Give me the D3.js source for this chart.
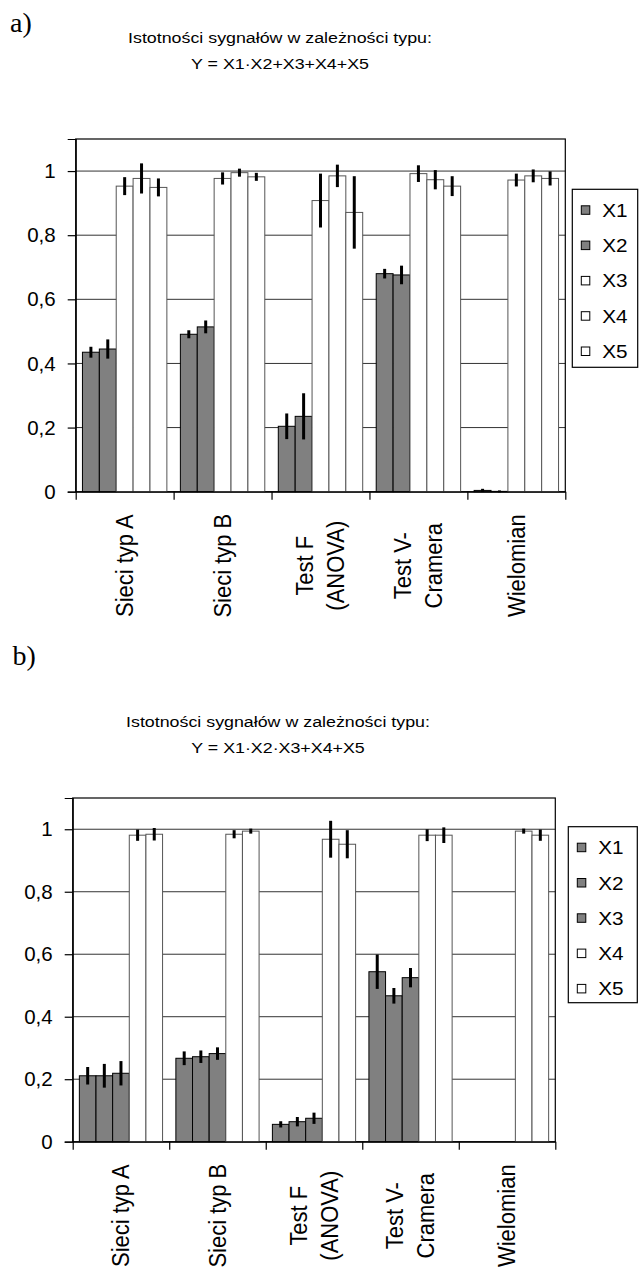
<!DOCTYPE html>
<html>
<head>
<meta charset="utf-8">
<script src="https://cdn.jsdelivr.net/npm/d3@7"></script>
<style>
  html, body { margin: 0; padding: 0; background: #fff; }
  svg { display: block; }
  text { font-family: "Liberation Sans", Arial, sans-serif; fill: #000; }
</style>
</head>
<body>
<svg id="fig" width="644" height="1270"></svg>
<script>
// Category labels (with manual line breaks as printed under the axis)
const categories = ["Sieci typ A", "Sieci typ B", "Test F (ANOVA)", "Test V-Cramera", "Wielomian"];
const categoryLines = [["Sieci typ A"], ["Sieci typ B"], ["Test F", "(ANOVA)"], ["Test V-", "Cramera"], ["Wielomian"]];
const seriesNames = ["X1", "X2", "X3", "X4", "X5"];
const yTickValues = [0, 0.2, 0.4, 0.6, 0.8, 1];
const yTickLabels = ["0", "0,2", "0,4", "0,6", "0,8", "1"];

// Panel a) Y = X1·X2+X3+X4+X5 — mean significance per method (rows) and signal (columns)
const valuesA = [
  [0.435, 0.445, 0.953, 0.977, 0.949],
  [0.491, 0.514, 0.977, 0.995, 0.982],
  [0.204, 0.235, 0.908, 0.985, 0.871],
  [0.680, 0.676, 0.992, 0.973, 0.953],
  [0.004, 0.001, 0.972, 0.985, 0.977]
];
const errorsA = [
  [0.017, 0.030, 0.028, 0.047, 0.028],
  [0.0125, 0.020, 0.019, 0.0125, 0.0125],
  [0.040, 0.072, 0.084, 0.035, 0.113],
  [0.015, 0.029, 0.026, 0.030, 0.031],
  [0.005, 0.003, 0.020, 0.020, 0.022]
];
const relevantA = [true, true, false, false, false];

// Panel b) Y = X1·X2·X3+X4+X5
const valuesB = [
  [0.211, 0.211, 0.219, 0.981, 0.984],
  [0.267, 0.272, 0.282, 0.984, 0.994],
  [0.0555, 0.064, 0.075, 0.968, 0.952],
  [0.544, 0.467, 0.525, 0.981, 0.981],
  [0, 0, 0, 0.994, 0.981]
];
const errorsB = [
  [0.028, 0.038, 0.039, 0.018, 0.020],
  [0.022, 0.020, 0.020, 0.013, 0.008],
  [0.010, 0.015, 0.018, 0.059, 0.045],
  [0.055, 0.025, 0.031, 0.019, 0.025],
  [0, 0, 0, 0.008, 0.018]
];
const relevantB = [true, true, true, false, false];

const svg = d3.select("#fig");
const DARK = "#808080";

// Horizontally stretched text (the figure's type is slightly wide)
function wideText(parent, x, y, str, size, sx, anchor, rot) {
  return parent.append("text")
    .attr("transform", `translate(${x},${y}) scale(${sx},1)` + (rot ? ` rotate(${rot})` : ""))
    .attr("text-anchor", anchor)
    .attr("font-size", size)
    .text(str);
}

function drawPanel(cfg) {
  const { letter, letterPos, titleLines, titleX, titleY, box, values, errors, relevant, legend } = cfg;
  const g = svg.append("g");

  // panel letter
  g.append("text")
    .attr("x", letterPos[0]).attr("y", letterPos[1])
    .attr("font-family", "'Liberation Serif', 'Times New Roman', serif")
    .attr("font-size", 28)
    .style("font-family", "'Liberation Serif', serif")
    .text(letter);

  // title
  titleLines.forEach((t, i) => wideText(g, titleX, titleY + i * 25.5, t, 15.5, 1.15, "middle"));

  const x0 = d3.scaleBand().domain(categories).range([box.left, box.right]).padding(0);
  const x1 = d3.scaleBand().domain(seriesNames).range([0, x0.bandwidth()])
    .paddingInner(0).paddingOuter(0.4);
  const y = d3.scaleLinear().domain([0, 1.1]).range([box.bottom, box.top]);

  // gridlines
  g.append("g").selectAll("line").data(yTickValues.filter(v => v > 0)).join("line")
    .attr("x1", box.left).attr("x2", box.right)
    .attr("y1", d => y(d)).attr("y2", d => y(d))
    .attr("stroke", "#333").attr("stroke-width", 1);

  // plot frame
  g.append("rect")
    .attr("x", box.left).attr("y", box.top)
    .attr("width", box.right - box.left).attr("height", box.bottom - box.top)
    .attr("fill", "none").attr("stroke", "#000").attr("stroke-width", 1.2);

  // bars
  const recs = [];
  categories.forEach((c, ci) => seriesNames.forEach((s, si) => {
    recs.push({ c, s, v: values[ci][si], e: errors[ci][si], dark: relevant[si] });
  }));
  g.append("g").selectAll("rect").data(recs.filter(d => d.v > 0)).join("rect")
    .attr("x", d => x0(d.c) + x1(d.s))
    .attr("width", x1.bandwidth())
    .attr("y", d => y(d.v))
    .attr("height", d => y(0) - y(d.v))
    .attr("fill", d => d.dark ? DARK : "#fff")
    .attr("stroke", d => d.dark ? "#000" : "#555")
    .attr("stroke-width", 1);

  // error bars
  g.append("g").selectAll("line").data(recs.filter(d => d.e > 0)).join("line")
    .attr("x1", d => x0(d.c) + x1(d.s) + x1.bandwidth() / 2)
    .attr("x2", d => x0(d.c) + x1(d.s) + x1.bandwidth() / 2)
    .attr("y1", d => y(d.v - d.e))
    .attr("y2", d => y(d.v + d.e))
    .attr("stroke", "#000").attr("stroke-width", 3);

  // y axis
  const yAxis = d3.axisLeft(y).tickValues(yTickValues)
    .tickFormat((d, i) => yTickLabels[i]).tickSize(8).tickPadding(12);
  const ya = g.append("g").attr("transform", `translate(${box.left},0)`).call(yAxis);
  ya.selectAll("text").attr("font-size", 20.5).attr("font-family", "'Liberation Sans', Arial, sans-serif");
  ya.selectAll("line, path").attr("stroke", "#000").attr("stroke-width", 1.2);

  // x axis: ticks at category boundaries
  const xb = d3.scaleLinear().domain([0, categories.length]).range([box.left, box.right]);
  const xa = g.append("g").attr("transform", `translate(0,${box.bottom})`)
    .call(d3.axisBottom(xb).tickValues(d3.range(categories.length + 1)).tickFormat("").tickSize(8).tickSizeOuter(0));
  xa.selectAll("line, path").attr("stroke", "#000").attr("stroke-width", 1.2);

  // rotated category labels
  categories.forEach((c, ci) => {
    const lines = categoryLines[ci];
    const cx = x0(c) + x0.bandwidth() / 2;
    const cy = box.bottom + 74;
    lines.forEach((ln, li) => {
      const off = (li - (lines.length - 1) / 2) * 28;
      wideText(g, cx + off * 1.1, cy, ln, 22, 1.1, "middle", -90)
        .attr("dominant-baseline", "central");
    });
  });

  // legend
  const lg = g.append("g");
  lg.append("rect").attr("x", legend.x).attr("y", legend.y)
    .attr("width", legend.w).attr("height", legend.h)
    .attr("fill", "#fff").attr("stroke", "#000").attr("stroke-width", 1.2);
  seriesNames.forEach((s, si) => {
    const cy = legend.y + 21 + si * 35.3;
    lg.append("rect").attr("x", legend.x + 9).attr("y", cy - 4.5)
      .attr("width", 8.5).attr("height", 8.5)
      .attr("fill", relevant[si] ? DARK : "#fff").attr("stroke", "#000").attr("stroke-width", 1);
    wideText(lg, legend.x + 30, cy, s, 18.5, 1.12, "start").attr("dominant-baseline", "central");
  });
}

drawPanel({
  letter: "a)", letterPos: [10, 32],
  titleLines: ["Istotności sygnałów w zależności typu:", "Y = X1·X2+X3+X4+X5"],
  titleX: 280, titleY: 43,
  box: { left: 75.7, right: 565.3, top: 139, bottom: 491.7 },
  values: valuesA, errors: errorsA, relevant: relevantA,
  legend: { x: 572.3, y: 189.3, w: 65.4, h: 178 }
});

drawPanel({
  letter: "b)", letterPos: [12.5, 665],
  titleLines: ["Istotności sygnałów w zależności typu:", "Y = X1·X2·X3+X4+X5"],
  titleX: 278, titleY: 727,
  box: { left: 72.7, right: 555.3, top: 798, bottom: 1141.7 },
  values: valuesB, errors: errorsB, relevant: relevantB,
  legend: { x: 568.3, y: 826.7, w: 69, h: 176 }
});
</script>
</body>
</html>
